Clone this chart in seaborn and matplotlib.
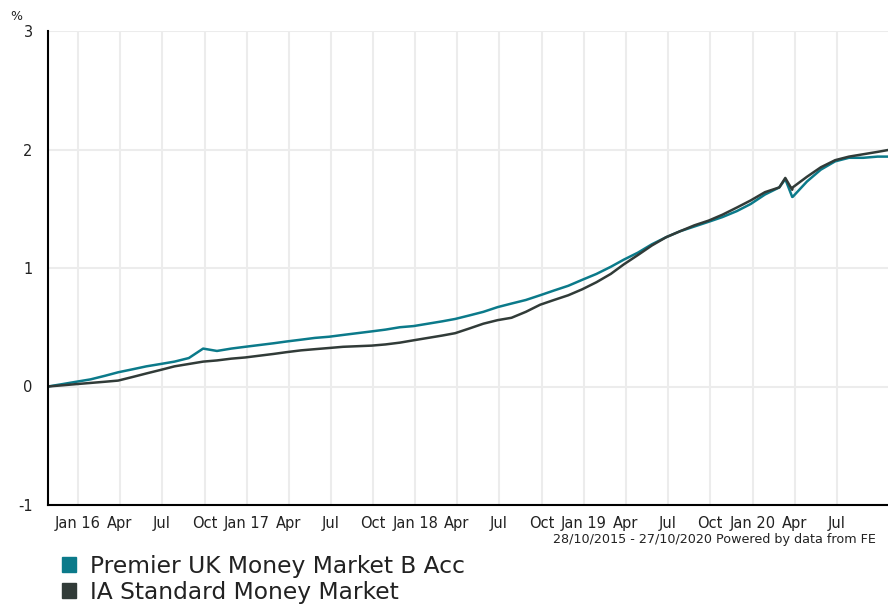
import seaborn as sns
import matplotlib.pyplot as plt
from matplotlib.patches import Patch
import pandas as pd

# Monthly readings, 28/10/2015 .. 27/10/2020 (61 points), cumulative % growth
start = '2015-10-28'
premier = [0.00, 0.02, 0.04, 0.06, 0.09, 0.12, 0.145, 0.17, 0.19, 0.21,
           0.24, 0.32, 0.30, 0.32, 0.335, 0.35, 0.365, 0.38, 0.395, 0.41,
           0.42, 0.435, 0.45, 0.465, 0.48, 0.50, 0.51, 0.53, 0.55, 0.57,
           0.60, 0.63, 0.67, 0.70, 0.73, 0.77, 0.81, 0.85, 0.90, 0.95,
           1.01, 1.07, 1.13, 1.20, 1.26, 1.31, 1.35, 1.39, 1.43, 1.48,
           1.54, 1.62, 1.68, 1.60, 1.73, 1.83, 1.90, 1.93, 1.93, 1.94, 1.94]
sector = [0.00, 0.01, 0.02, 0.03, 0.04, 0.05, 0.08, 0.11, 0.14, 0.17,
          0.19, 0.21, 0.22, 0.235, 0.245, 0.26, 0.275, 0.29, 0.305, 0.315,
          0.325, 0.335, 0.34, 0.345, 0.355, 0.37, 0.39, 0.41, 0.43, 0.45,
          0.49, 0.53, 0.56, 0.58, 0.63, 0.69, 0.73, 0.77, 0.82, 0.88,
          0.95, 1.03, 1.11, 1.19, 1.26, 1.31, 1.36, 1.40, 1.45, 1.51,
          1.57, 1.64, 1.68, 1.68, 1.77, 1.85, 1.91, 1.94, 1.96, 1.98, 2.00]

# extra readings around the March 2020 spike
spike_dates = ['2020-03-12', '2020-03-27']
spike_premier = [1.75, 1.60]
spike_sector = [1.76, 1.66]

names = ['Premier UK Money Market B Acc', 'IA Standard Money Market']
colors = ['#0b7a8a', '#313b38']

dates = list(pd.date_range(start, periods=61, freq=pd.DateOffset(months=1)))
dates[-1] = pd.Timestamp('2020-10-27')
df = pd.DataFrame({'date': dates + list(pd.to_datetime(spike_dates)),
                   names[0]: premier + spike_premier,
                   names[1]: sector + spike_sector}).sort_values('date')
df = df.melt(id_vars='date', var_name='series', value_name='value')

sns.set_style('white')
plt.rcParams['font.family'] = ['DejaVu Sans']
plt.rcParams['axes.unicode_minus'] = False

fig = plt.figure(figsize=(8.88, 6.04), dpi=100)
ax = fig.add_axes([48 / 888, 1 - 505 / 604, 843 / 888, 474 / 604])

sns.lineplot(data=df, x='date', y='value', hue='series', hue_order=names,
             palette=colors, linewidth=1.8, legend=False, ax=ax)

ax.set_xlim(pd.Timestamp('2015-10-28'), pd.Timestamp('2020-10-27'))
ax.set_ylim(-1, 3)
ax.set_yticks([-1, 0, 1, 2, 3])
# quarterly ticks, last one is Jul 20
ticks = pd.date_range('2016-01-01', '2020-07-01', freq='QS-JAN')
ax.set_xticks(ticks)
ax.set_xticklabels([f"Jan {d.strftime('%y')}" if d.month == 1 else d.strftime('%b')
                    for d in ticks])
ax.grid(True, color='#ececec', linewidth=1.5)
ax.set_axisbelow(True)
for s in ['top', 'right']:
    ax.spines[s].set_visible(False)
for s in ['left', 'bottom']:
    ax.spines[s].set_color('black')
    ax.spines[s].set_linewidth(1.5)
ax.tick_params(axis='both', length=4, width=1.5, color='black',
               labelsize=10.5, labelcolor='#222222', direction='out')
ax.tick_params(axis='x', pad=4)
ax.tick_params(axis='y', pad=7)
ax.set_xlabel('')
ax.set_ylabel('')

fig.text(10 / 888, 1 - 16 / 604, '%', fontsize=9, color='#222222', va='center')
fig.text(553 / 888, 1 - 540 / 604,
         '28/10/2015 - 27/10/2020 Powered by data from FE',
         fontsize=9.2, color='#222222', va='center')

handles = [Patch(facecolor=c, edgecolor=c) for c in colors]
fig.legend(handles, names, loc='upper left', bbox_to_anchor=(62 / 888, 1 - 555 / 604),
           frameon=False, fontsize=16.8, handlelength=0.62, handleheight=0.62,
           handletextpad=0.6, labelspacing=0.12, borderaxespad=0,
           borderpad=0, labelcolor='#222222')

fig.savefig('out.png', dpi=100)
